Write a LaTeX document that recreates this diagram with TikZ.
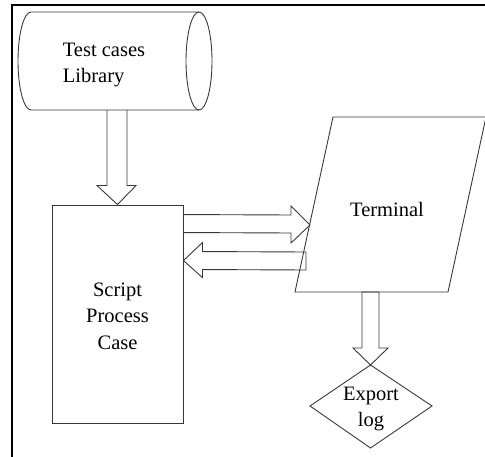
\documentclass[tikz,border=0pt]{standalone}
\usepackage{fontspec}
\setmainfont{Liberation Serif}
\usetikzlibrary{calc}
\begin{document}
\begin{tikzpicture}[x=1pt,y=-1pt,
  shapeline/.style={draw=black!78, line width=0.9pt},
  conn/.style={draw=black!78, line width=0.9pt, line join=miter},
  lbl/.style={font=\fontsize{20.5}{26.5}\selectfont, align=center, inner sep=0pt},
  frameline/.style={draw=black, line width=2.4pt}]
\useasboundingbox (0,0) rectangle (485,457);
% frame
\draw[frameline] (12,457) -- (12,5) -- (485,5);
% cylinder (library)
\draw[shapeline] (199,12) -- (31,12) arc[start angle=90, end angle=270, x radius=13pt, y radius=49pt] -- (199,110);
\draw[shapeline] (199,61) ellipse [x radius=13pt, y radius=49pt];
\node[lbl, align=left] (lib) at (104,65) {Test cases\\Library};
\coordinate (libbot) at (117,110);
% script box
\node[shapeline, minimum width=131pt, minimum height=218pt, inner sep=0pt] (script) at (117.5,314) {};
\node[lbl] (scripttxt) at (117.5,316) {Script\\Process\\Case};
% terminal parallelogram
\coordinate (tTL) at (333,117);
\coordinate (tTR) at (486,117);
\coordinate (tBR) at (448,292);
\coordinate (tBL) at (295,292);
\draw[shapeline] (tTL) -- (tTR) -- (tBR) -- (tBL) -- cycle;
\node[lbl] (terminal) at (387,209) {Terminal};
% export diamond
\coordinate (dT) at (370.5,365);
\coordinate (dR) at (432,406);
\coordinate (dB) at (370.5,448);
\coordinate (dL) at (310,406);
\draw[shapeline] (dT) -- (dR) -- (dB) -- (dL) -- cycle;
\node[lbl] (export) at (371,409) {Export\\log};
% connectors (block arrows)
% library -> script
\draw[conn] ($(libbot)+(-10,0)$) -- ($(script.north)+(-10.5,-19)$) -- ($(script.north)+(-20.5,-19)$) -- (script.north)
  -- ($(script.north)+(18.5,-19)$) -- ($(script.north)+(9.5,-19)$) -- ($(libbot)+(10,0)$);
% script -> terminal
\coordinate (rs) at ($(script.north east)+(0,10)$);
\coordinate (rt) at (310,225);
\draw[conn] (rs) -- ($(rt)+(-19,-10)$) -- ($(rt)+(-19,-19)$) -- (rt) -- ($(rt)+(-19,18)$) -- ($(rt)+(-19,8)$) -- ($(rs)+(0,18)$);
% terminal -> script
\coordinate (ls) at (306,252);
\coordinate (lt) at ($(script.north east)+(0,56)$);
\draw[conn] (ls) -- ($(lt)+(19,-9)$) -- ($(lt)+(19,-18)$) -- (lt) -- ($(lt)+(19,17)$) -- ($(lt)+(19,9)$) -- ($(ls)+(0,18)$) -- cycle;
% terminal -> export
\coordinate (tb) at (370.5,292);
\draw[conn] ($(tb)+(-8.5,0)$) -- ($(dT)+(-8.5,-17)$) -- ($(dT)+(-17.5,-17)$) -- (dT) -- ($(dT)+(17.5,-17)$) -- ($(dT)+(8.5,-17)$) -- ($(tb)+(8.5,0)$) -- cycle;
\end{tikzpicture}
\end{document}
